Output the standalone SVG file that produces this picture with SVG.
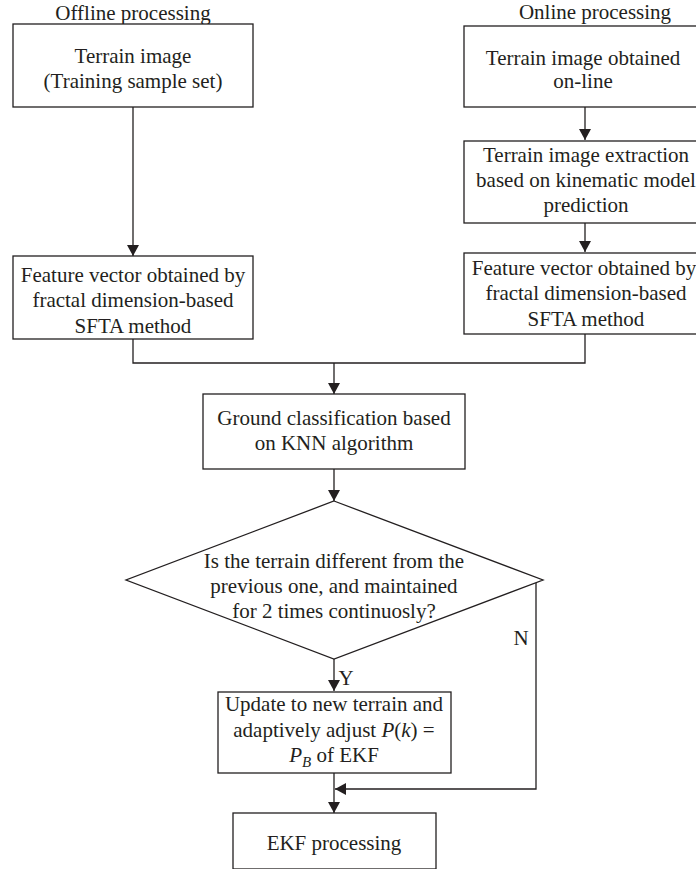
<svg xmlns="http://www.w3.org/2000/svg" width="696" height="869" viewBox="0 0 696 869">
<style>
  .box { fill: #fff; stroke: #231f20; stroke-width: 1.3; }
  .ln { fill: none; stroke: #231f20; stroke-width: 1.3; }
  .t { font-family: "Liberation Serif", "Times New Roman", serif; font-size: 21px; fill: #231f20; text-anchor: middle; }
  .it { font-style: italic; }
</style>
<defs>
  <marker id="arr" markerUnits="userSpaceOnUse" markerWidth="12" markerHeight="12" refX="11" refY="6" orient="auto">
    <path d="M0,0 L11,6 L0,12 z" fill="#231f20"/>
  </marker>
</defs>
<rect width="696" height="869" fill="#fff"/>

<text class="t" x="133" y="20">Offline processing</text>
<text class="t" x="595" y="19">Online processing</text>

<g id="connectors">
  <line class="ln" x1="133" y1="107" x2="133" y2="256" marker-end="url(#arr)"/>
  <line class="ln" x1="585" y1="107" x2="585" y2="140" marker-end="url(#arr)"/>
  <line class="ln" x1="585" y1="223" x2="585" y2="252" marker-end="url(#arr)"/>
  <polyline class="ln" points="133,339 133,363 585,363 585,334"/>
  <line class="ln" x1="334" y1="363" x2="334" y2="394" marker-end="url(#arr)"/>
  <line class="ln" x1="334" y1="469" x2="334" y2="501" marker-end="url(#arr)"/>
  <line class="ln" x1="334" y1="659" x2="334" y2="691" marker-end="url(#arr)"/>
  <line class="ln" x1="334" y1="773" x2="334" y2="813" marker-end="url(#arr)"/>
  <polyline class="ln" points="536,583 536,789 335,789" marker-end="url(#arr)"/>
  <text class="t" x="346" y="685">Y</text>
  <text class="t" x="521" y="645">N</text>
</g>

<g id="n1">
  <rect class="box" x="13" y="24" width="240" height="83"/>
  <text class="t" x="133" y="63">Terrain image</text>
  <text class="t" x="133" y="88">(Training sample set)</text>
</g>
<g id="n2">
  <rect class="box" x="464" y="26" width="242" height="81"/>
  <text class="t" x="583" y="65">Terrain image obtained</text>
  <text class="t" x="583" y="88">on-line</text>
</g>
<g id="n3">
  <rect class="box" x="464" y="141" width="242" height="82"/>
  <text class="t" x="586" y="162">Terrain image extraction</text>
  <text class="t" x="586" y="187">based on kinematic model</text>
  <text class="t" x="586" y="212">prediction</text>
</g>
<g id="n4">
  <rect class="box" x="464" y="253" width="242" height="81"/>
  <text class="t" x="584" y="275">Feature vector obtained by</text>
  <text class="t" x="586" y="300">fractal dimension-based</text>
  <text class="t" x="586" y="326">SFTA method</text>
</g>
<g id="n5">
  <rect class="box" x="13" y="256" width="240" height="83"/>
  <text class="t" x="133" y="282">Feature vector obtained by</text>
  <text class="t" x="133" y="307">fractal dimension-based</text>
  <text class="t" x="133" y="333">SFTA method</text>
</g>
<g id="n6">
  <rect class="box" x="203" y="394" width="262" height="75"/>
  <text class="t" x="334" y="425">Ground classification based</text>
  <text class="t" x="334" y="450">on KNN algorithm</text>
</g>
<g id="n7">
  <polygon class="box" points="334,501 543,580 334,659 126,580"/>
  <text class="t" x="334" y="568">Is the terrain different from the</text>
  <text class="t" x="334" y="593">previous one, and maintained</text>
  <text class="t" x="334" y="618">for 2 times continuosly?</text>
</g>
<g id="n8">
  <rect class="box" x="218" y="692" width="233" height="81"/>
  <text class="t" x="334" y="711">Update to new terrain and</text>
  <text class="t" x="334" y="737">adaptively adjust <tspan class="it">P</tspan>(<tspan class="it">k</tspan>) =</text>
  <text class="t" x="334" y="762"><tspan class="it">P</tspan><tspan class="it" font-size="15" dy="5">B</tspan><tspan dy="-5"> of EKF</tspan></text>
</g>
<g id="n9">
  <rect class="box" x="233" y="813" width="203" height="56"/>
  <text class="t" x="334" y="850">EKF processing</text>
</g>
</svg>
